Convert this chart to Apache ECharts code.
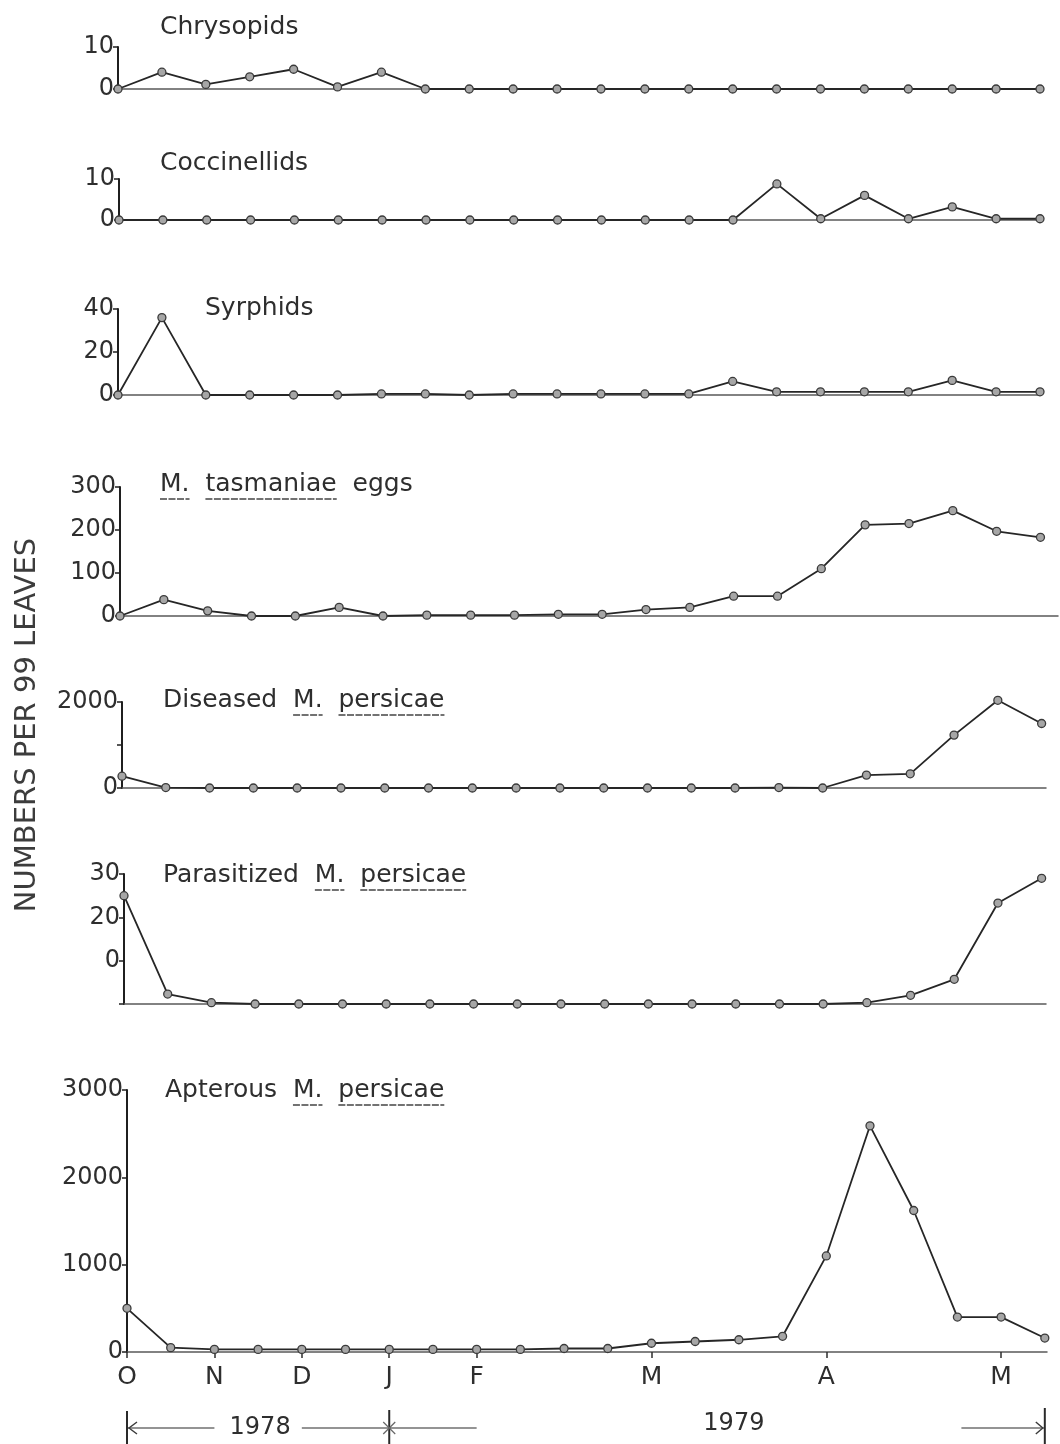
<!DOCTYPE html>
<html>
<head>
<meta charset="utf-8">
<title>Predators, parasites and M. persicae, 1978–1979</title>
<script src="https://cdn.jsdelivr.net/npm/echarts@6/dist/echarts.min.js"></script>
<style>
  html, body { margin: 0; padding: 0; background: #ffffff; }
  #main { width: 1060px; height: 1444px; }
</style>
</head>
<body>
<div id="main"></div>
<script>
// Fortnightly samples, October 1978 to May 1979 (22 samples per series)
const sampleCount = 22;

// Numbers per 99 leaves
const chrysopids   = [0, 4, 1.1, 2.9, 4.7, 0.5, 4, 0, 0, 0, 0, 0, 0, 0, 0, 0, 0, 0, 0, 0, 0, 0];
const coccinellids = [0, 0, 0, 0, 0, 0, 0, 0, 0, 0, 0, 0, 0, 0, 0, 8.8, 0.3, 6, 0.3, 3.2, 0.3, 0.3];
const syrphids     = [0, 36, 0, 0, 0, 0, 0.5, 0.5, 0, 0.5, 0.5, 0.5, 0.5, 0.5, 6.3, 1.5, 1.5, 1.5, 1.5, 6.8, 1.5, 1.5];
const tasmaniaeEggs = [0, 38, 12, 0, 0, 20, 0, 2, 2, 2, 4, 4, 15, 20, 46, 46, 110, 212, 215, 245, 197, 183];
const diseased     = [275, 10, 0, 0, 0, 0, 0, 0, 0, 0, 0, 0, 0, 0, 0, 10, 0, 300, 330, 1230, 2040, 1500];
const parasitized  = [25, 2.3, 0.3, 0, 0, 0, 0, 0, 0, 0, 0, 0, 0, 0, 0, 0, 0, 0.3, 2, 5.7, 23.3, 29];
const apterous     = [500, 50, 30, 30, 30, 30, 30, 30, 30, 30, 40, 40, 100, 120, 140, 180, 1100, 2590, 1620, 400, 400, 160];

// Month ticks on the bottom axis (sample index -> month initial)
const monthTickIdx = [0, 2, 4, 6, 8, 12, 16, 20];
const monthLetters = ['O', 'N', 'D', 'J', 'F', 'M', 'A', 'M'];

// Y-axis ticks
const yMax      = [10, 10, 40, 300, 2000, 30, 3000];
const yInterval = [10, 10, 20, 100, 1000, 10, 1000];

// Panel titles: text plus the substrings that are underlined
const titles = [
  { text: 'Chrysopids', under: [] },
  { text: 'Coccinellids', under: [] },
  { text: 'Syrphids', under: [] },
  { text: 'M.  tasmaniae  eggs', under: ['M.', 'tasmaniae'] },
  { text: 'Diseased  M.  persicae', under: ['M.', 'persicae'] },
  { text: 'Parasitized  M.  persicae', under: ['M.', 'persicae'] },
  { text: 'Apterous  M.  persicae', under: ['M.', 'persicae'] }
];
const yTitle = 'NUMBERS PER 99 LEAVES';
const yearLabels = ['1978', '1979'];

const seriesData = [chrysopids, coccinellids, syrphids, tasmaniaeEggs, diseased, parasitized, apterous];

// ---- layout (pixels) ----
const layout = [
  { left: 118, top: 47,   bottom: 89,   right: 1040, xMax: 21 },
  { left: 119, top: 179,  bottom: 220,  right: 1040, xMax: 21 },
  { left: 118, top: 309,  bottom: 395,  right: 1040, xMax: 21 },
  { left: 120, top: 487,  bottom: 616,  right: 1058, xMax: 21.4 },
  { left: 122, top: 702,  bottom: 788,  right: 1046, xMax: 21.1 },
  { left: 124, top: 874,  bottom: 1004, right: 1046, xMax: 21.1 },
  { left: 127, top: 1090, bottom: 1352, right: 1047, xMax: 21.05 }
];
const titlePos = [
  [160, 27], [160, 163], [205, 308], [160, 484], [163, 700], [163, 875], [165, 1090]
];

const FONT = '"DejaVu Sans", "Liberation Sans", sans-serif';
const INK = '#2e2e2e';

const chart = echarts.init(document.getElementById('main'), null, { width: 1060, height: 1444, renderer: 'canvas' });

function yLabelFormatter(panel) {
  return function (v) {
    if (panel === 4 && v === 1000) return '';
    if (panel === 5) {
      if (v === 0) return '';
      if (v === 10) return '0';
    }
    return String(v);
  };
}

const grids = [], xAxes = [], yAxes = [], series = [];
layout.forEach((p, i) => {
  const last = i === layout.length - 1;
  grids.push({ left: p.left, top: p.top, width: p.right - p.left, height: p.bottom - p.top, containLabel: false });
  xAxes.push({
    type: 'value', gridIndex: i, min: 0, max: p.xMax,
    axisLine: { show: true, onZero: false, lineStyle: { color: '#5a5a5a', width: 1.5 } },
    axisTick: last ? { show: true, customValues: monthTickIdx, length: 6, lineStyle: { color: INK, width: 1.5 } } : { show: false },
    axisLabel: last ? {
      show: true, customValues: monthTickIdx, margin: 13,
      fontSize: 25, fontFamily: FONT, color: INK,
      formatter: v => monthLetters[monthTickIdx.indexOf(Math.round(v))] || ''
    } : { show: false },
    splitLine: { show: false }
  });
  yAxes.push({
    type: 'value', gridIndex: i, min: 0, max: yMax[i], interval: yInterval[i],
    axisLine: { show: true, lineStyle: { color: '#1f1f1f', width: 2 } },
    axisTick: { show: true, length: 5, lineStyle: { color: '#1f1f1f', width: 1.5 } },
    axisLabel: { show: true, margin: 4, fontSize: 24, fontFamily: FONT, color: INK, formatter: yLabelFormatter(i) },
    splitLine: { show: false }
  });
  series.push({
    type: 'line', xAxisIndex: i, yAxisIndex: i,
    data: seriesData[i].map((v, j) => [j, v]),
    symbol: 'circle', symbolSize: 8, showAllSymbol: true, clip: false,
    lineStyle: { color: '#262626', width: 1.8 },
    itemStyle: { color: '#a6a6a6', borderColor: '#3a3a3a', borderWidth: 1.3 },
    z: 3
  });
});

chart.setOption({
  animation: false,
  backgroundColor: '#ffffff',
  grid: grids, xAxis: xAxes, yAxis: yAxes, series: series
});

// ---- titles with underlined names ----
const ctx = document.createElement('canvas').getContext('2d');
const TITLE_SIZE = 25;
ctx.font = TITLE_SIZE + 'px ' + FONT;
const graphics = [];
titles.forEach((t, i) => {
  const [tx, ty] = titlePos[i];
  graphics.push({
    type: 'text', x: tx, y: ty,
    style: { text: t.text, fontSize: TITLE_SIZE, fontFamily: FONT, fill: INK, align: 'left', verticalAlign: 'middle' }
  });
  let from = 0;
  t.under.forEach(word => {
    const k = t.text.indexOf(word, from);
    from = k + word.length;
    const x1 = tx + ctx.measureText(t.text.slice(0, k)).width;
    const x2 = tx + ctx.measureText(t.text.slice(0, k + word.length)).width;
    graphics.push({
      type: 'line', shape: { x1: x1, y1: ty + 15, x2: x2, y2: ty + 15 },
      style: { stroke: '#444', lineWidth: 1.5, lineDash: [7, 1.5] }
    });
  });
});

// ---- vertical axis title ----
graphics.push({
  type: 'text', x: 27, y: 725, rotation: Math.PI / 2,
  style: { text: yTitle, fontSize: 29, fontFamily: FONT, fill: '#3c3c3c', align: 'center', verticalAlign: 'middle' }
});

// ---- year brackets under the bottom axis ----
const bottom = layout.length - 1;
const px = i => chart.convertToPixel({ gridIndex: bottom }, [i, 0])[0];
const yy = 1428;
const thin = { stroke: '#707070', lineWidth: 1.3 };
const bar = { stroke: '#2a2a2a', lineWidth: 2 };
const x0 = px(0), x2 = px(2), x4 = px(4), x6 = px(6), x8 = px(8), x19 = px(19), xEnd = px(21);
graphics.push(
  { type: 'line', shape: { x1: x0, y1: 1411, x2: x0, y2: 1444 }, style: bar },
  { type: 'line', shape: { x1: x0 + 1, y1: yy, x2: x2, y2: yy }, style: thin },
  { type: 'polyline', shape: { points: [[x0 + 10, yy - 6], [x0 + 2, yy], [x0 + 10, yy + 6]] }, style: { stroke: '#3a3a3a', lineWidth: 1.4, fill: null } },
  { type: 'text', x: (x2 + x4) / 2 + 2, y: yy, style: { text: yearLabels[0], fontSize: 24, fontFamily: FONT, fill: INK, align: 'center', verticalAlign: 'middle' } },
  { type: 'line', shape: { x1: x4, y1: yy, x2: x8, y2: yy }, style: thin },
  { type: 'line', shape: { x1: x6, y1: 1410, x2: x6, y2: 1444 }, style: bar },
  { type: 'line', shape: { x1: x6 - 6, y1: yy - 6, x2: x6 + 6, y2: yy + 6 }, style: { stroke: '#666', lineWidth: 1.2 } },
  { type: 'line', shape: { x1: x6 - 6, y1: yy + 6, x2: x6 + 6, y2: yy - 6 }, style: { stroke: '#666', lineWidth: 1.2 } },
  { type: 'text', x: px(14) - 5, y: yy - 4, style: { text: yearLabels[1], fontSize: 24, fontFamily: FONT, fill: INK, align: 'center', verticalAlign: 'middle' } },
  { type: 'line', shape: { x1: x19 + 4, y1: yy, x2: xEnd - 1, y2: yy }, style: thin },
  { type: 'polyline', shape: { points: [[xEnd - 9, yy - 6], [xEnd - 2, yy], [xEnd - 9, yy + 6]] }, style: { stroke: '#3a3a3a', lineWidth: 1.4, fill: null } },
  { type: 'line', shape: { x1: xEnd, y1: 1408, x2: xEnd, y2: 1444 }, style: bar }
);

chart.setOption({ graphic: { elements: graphics } });
</script>
</body>
</html>
